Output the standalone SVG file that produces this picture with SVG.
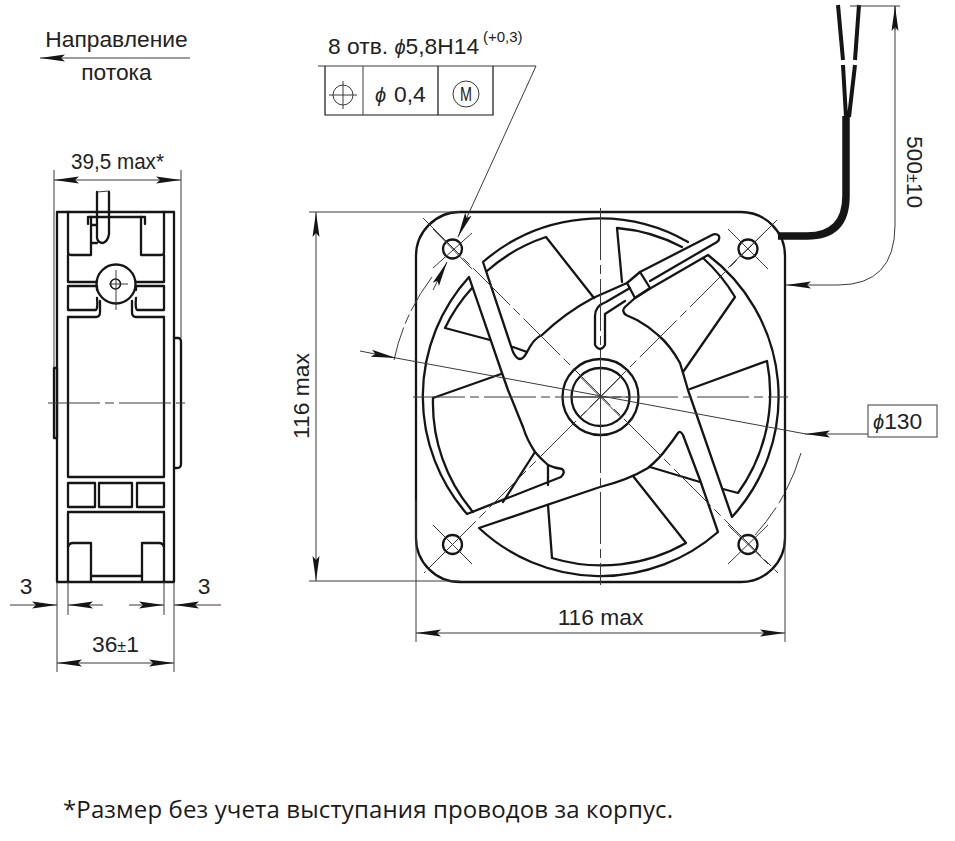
<svg xmlns="http://www.w3.org/2000/svg" width="955" height="841" viewBox="0 0 955 841">
<style>
.t{font-family:"Liberation Sans",Arial,sans-serif;fill:#222;font-size:22.8px}
.f{font-family:"Open Sans","Noto Sans",sans-serif;fill:#1a1a1a;font-size:24px}
.k{fill:none;stroke:#151515;stroke-width:2.3;stroke-linejoin:round;stroke-linecap:round}
.m{fill:none;stroke:#151515;stroke-width:1.6}
.d{fill:none;stroke:#3a3a3a;stroke-width:1}
.c{fill:none;stroke:#3a3a3a;stroke-width:1;stroke-dasharray:52 5 9 5}
.a{marker-end:url(#ar)}
.b{marker-start:url(#arr);marker-end:url(#ar)}
</style>
<defs>
<marker id="ar" markerUnits="userSpaceOnUse" markerWidth="28" markerHeight="10" refX="25" refY="5" orient="auto"><path d="M0 1.5L25 5L0 8.5L4 5Z" fill="#151515"/></marker>
<marker id="arr" markerUnits="userSpaceOnUse" markerWidth="28" markerHeight="10" refX="0" refY="5" orient="auto"><path d="M25 1.500L0 5L25 8.500L21 5Z" fill="#151515"/></marker>
</defs>
<rect width="955" height="841" fill="#fff"/>

<g id="flow-direction">
<text class="t" x="116.500" y="47" text-anchor="middle">Направление</text>
<path class="d a" d="M190 58H40"/>
<text class="t" x="116.500" y="80" text-anchor="middle">потока</text>
</g>

<g id="side-view">
<path class="k" d="M57 212H174V582H57Z"/>
<path class="k" d="M54 368H57V438H54Z"/>
<path class="k" d="M174 338H178Q181 338 181 342V464Q181 468 177 468H174"/>
<path class="k" d="M68 212V252Q68 255 71 255H91V217M141 217V255H161Q164 255 164 252V212"/>
<path class="k" d="M88 217V224M88 217H145V224M91 225H97"/>
<path class="k" d="M97 192V238Q98 243 103 243Q108 241 109 234V192"/>
<path class="d" d="M97 192L109 191"/>
<path class="k" d="M91 243H97"/>
<path class="k" d="M68 255V282H97M136 282H164V255"/>
<circle class="k" cx="116" cy="284" r="19.500"/>
<circle class="m" cx="115.500" cy="284" r="5"/>
<path class="d" d="M109 284H128M116 270V310"/>
<path class="k" d="M97 290V286H68V310H96Q98 308 97 298M136 290V286H164V310H137Q135 308 136 298"/>
<path class="k" d="M68 317H96Q100 317 100 312V301M132 301V312Q132 317 136 317H164"/>
<path class="k" d="M68 317V477H164V317"/>
<rect class="k" x="68" y="483" width="27" height="24"/>
<rect class="k" x="99" y="483" width="33" height="24"/>
<rect class="k" x="137" y="483" width="27" height="24"/>
<path class="k" d="M68 582V512H164V582"/>
<path class="k" d="M68 547Q69 543 73 543H91V582M142 582V543H159Q163 543 164 547"/>
<path class="k" d="M91 576H142"/>
<path class="c" d="M48 403H188"/>
</g>

<g id="side-dimensions">
<path class="d" d="M54 170V368M181 170V338"/>
<path class="d b" d="M54 180H181"/>
<text class="t" x="71" y="169" textLength="93" lengthAdjust="spacingAndGlyphs">39,5 max*</text>
<path class="d" d="M57 582V672M174 582V672M68 582V615M164 582V615"/>
<path class="d a" d="M10 605H57"/>
<path class="d a" d="M103 605H68"/>
<path class="d a" d="M129 605H164"/>
<path class="d a" d="M221 605H174"/>
<text class="t" x="26" y="594" text-anchor="middle">3</text>
<text class="t" x="204" y="594" text-anchor="middle">3</text>
<path class="d b" d="M57 663H174"/>
<text class="t" x="92" y="652">36<tspan font-size="16">±</tspan>1</text>
</g>

<g id="fan-front">
<path class="k" d="M460 212H741A44 44 0 0 1 785 256V538A44 44 0 0 1 741 582H460A44 44 0 0 1 416 538V256A44 44 0 0 1 460 212Z"/>
<g id="holes">
<circle class="k" cx="452.500" cy="249" r="9.500"/>
<circle class="k" cx="748" cy="249" r="9.500"/>
<circle class="k" cx="452.500" cy="544.500" r="9.500"/>
<circle class="k" cx="748" cy="544.500" r="9.500"/>
</g>
<g id="hub">
<circle class="k" cx="600.500" cy="397" r="38"/>
<circle class="k" cx="600.500" cy="397" r="29"/>
<path class="d" d="M571.500 397H629.500M600.500 368V426M580 376.500L621 417.500M621 376.500L580 417.500"/>
</g>
<g id="blades">
<path class="k" d="M688 242A178 178 0 0 0 483 262L513 352Q520 366 527 352Q534 338 542 335Q565 313 593 298L627 283"/>
<path class="k" d="M487 271A169 169 0 0 1 546 237L594 298M513 347L527 352"/>
<path class="k" d="M469 277A178 178 0 0 0 467 514L561 477Q566 472 562 469Q554 468 548 465Q540 458 535 452Q527 440 523 427L508 390L502 373L469 277Z"/>
<path class="k" d="M472 288A169 169 0 0 0 445 328L490 340M433 398L501 374M433 398A168 168 0 0 0 473 512M535 452L503 502"/>
<path class="k" d="M479 528A178 178 0 0 0 718 532L700 480L683 435Q680 430 678 433Q672 442 667 448Q660 458 648 468Q628 480 600 487L479 528Z"/>
<path class="k" d="M548 465V485M548 505L552 558A170 170 0 0 0 686 543L633 476M650 467L700 482"/>
<path class="k" d="M708 255A178 178 0 0 1 732 517L688 390Q684 376 680 363Q670 345 658 335Q648 326 637 320L626 315Q621 311 625 307L635 298L651 288L708 255Z"/>
<path class="k" d="M703 258A169 169 0 0 1 735 297L683 372M690 389L767 361A170 170 0 0 1 738 493L723 489"/>
<path class="k" d="M682 247A170 170 0 0 0 617 228L622 282"/>
</g>
<g id="lead-tube">
<path class="k" d="M640 272L712 235Q716 233 719 236Q720 240 717 242L650 281"/>
<path class="k" d="M627 283L640 272L650 288L635 298Z"/>
<path class="k" d="M630 288L606 302Q595 306 595 316V345Q600 353 605 345V314L625 301"/>
</g>
<path class="k" style="stroke-width:7.500;stroke-linecap:butt" d="M778 236H807Q846 236 846 196V116"/>
<path class="k" style="stroke-width:4;stroke-linecap:butt" d="M843 65L846 117M855 65L849 117M843 60L838 5M855 60L859 5"/>
</g>

<g id="center-lines">
<path class="c" d="M413 397H788M600.500 208V585M423 218L778 573M777 220L424 573"/>
<path class="d" d="M433 229L472 269M433 268L472 233M728 229L768 269M728 268L768 229M433 525L472 564M433 564L472 525M728 525L768 564M728 564L768 525"/>
<path class="d" stroke-dasharray="40 4 10 4" d="M432 277A207 207 0 0 0 394 360"/>
<path class="d" stroke-dasharray="40 5 10 5" d="M801 453A208 208 0 0 1 755 535"/>
</g>

<g id="fan-dimensions">
<path class="d" d="M309 212H460M309 581H460M416 500V642M785 500V642"/>
<path class="d b" d="M316 212V581"/>
<text class="t" transform="translate(309 396) rotate(-90)" text-anchor="middle">116 max</text>
<path class="d b" d="M416 633H785"/>
<text class="t" x="600.500" y="625" text-anchor="middle">116 max</text>
<path class="d" d="M850 6H900M895 6V225"/>
<path class="d a" d="M895 225Q895 285 838 285H786"/>
<path class="d a" d="M895 30V6"/>
<text class="t" transform="translate(907 172) rotate(90)" text-anchor="middle">500<tspan font-size="16">±</tspan>10</text>
</g>

<g id="tolerance-callout">
<text class="t" x="328" y="54">8 отв. <tspan font-style="italic" font-size="20">ϕ</tspan>5,8Н14</text>
<text class="t" x="483" y="42" style="font-size:15px">(+0,3)</text>
<path class="d" d="M318 66H536"/>
<path class="d a" d="M536 66L458 237"/>
<path class="d a" d="M433 290L447 262"/>
<path class="m" d="M325 66V115H493V66M438 66V115" style="stroke-width:1.200"/>
<path class="d" d="M363 66V115"/>
<circle class="d" cx="343" cy="95" r="10"/>
<path class="d" d="M329 95H357M343 81V109"/>
<text class="t" x="375" y="102" font-style="italic" style="font-size:20px">ϕ</text>
<text class="t" x="394" y="102">0,4</text>
<circle class="d" cx="466" cy="94" r="13"/>
<text class="t" x="460" y="101" textLength="12" lengthAdjust="spacingAndGlyphs" style="font-size:20px">M</text>
</g>

<g id="diameter-callout">
<path class="d a" d="M360 351L396 358"/>
<path class="d" d="M396 358L806 434"/>
<path class="d a" d="M868 434H805"/>
<rect class="d" x="868" y="405" width="69" height="32"/>
<text class="t" x="873" y="429"><tspan font-style="italic" font-size="20">ϕ</tspan>130</text>
</g>

<text id="footnote" class="f" x="63" y="818" textLength="610" lengthAdjust="spacing">*Размер без учета выступания проводов за корпус.</text>
</svg>
